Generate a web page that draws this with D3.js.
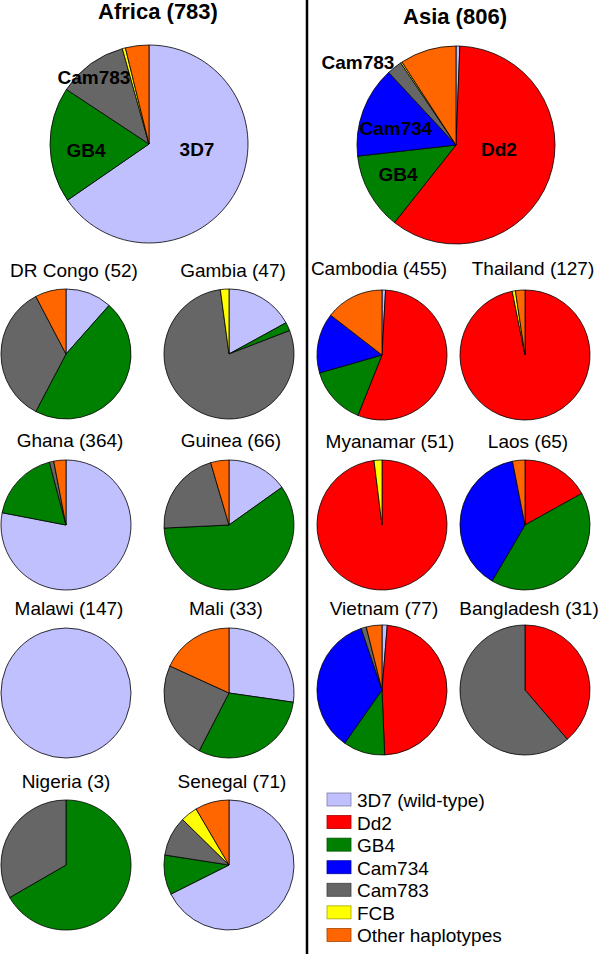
<!DOCTYPE html>
<html>
<head>
<meta charset="utf-8">
<script src="https://cdn.jsdelivr.net/npm/d3@7"></script>
<style>
  html, body { margin: 0; padding: 0; background: #fff; }
  svg { display: block; }
  text { font-family: "Liberation Sans", Arial, Helvetica, sans-serif; fill: #000; }
</style>
</head>
<body>
<svg id="chart" width="600" height="954"></svg>
<script>
// ---------- DATA ----------
const haplotypes = ["3D7 (wild-type)", "Dd2", "GB4", "Cam734", "Cam783", "FCB", "Other haplotypes"];
const hapColors  = ["#c0c0ff", "#ff0000", "#008000", "#0000ff", "#666666", "#ffff00", "#ff6600"];

const regionNames = ["Africa", "Asia"];
const regionN     = [783, 806];
const africaTotal = [512, 0, 148, 0, 89, 4, 30];
const asiaTotal   = [5, 484, 101, 120, 20, 2, 74];

const africaCountries = ["DR Congo", "Gambia", "Ghana", "Guinea", "Malawi", "Mali", "Nigeria", "Senegal"];
const africaN = [52, 47, 364, 66, 147, 33, 3, 71];
const drCongo = [6, 0, 24, 0, 18, 0, 4];
const gambia  = [8, 0, 1, 0, 37, 1, 0];
const ghana   = [284, 0, 65, 0, 4, 0, 11];
const guinea  = [10, 0, 39, 0, 14, 0, 3];
const malawi  = [147, 0, 0, 0, 0, 0, 0];
const mali    = [9, 0, 10, 0, 8, 0, 6];
const nigeria = [0, 0, 2, 0, 1, 0, 0];
const senegal = [48, 0, 7, 0, 7, 3, 6];

const asiaCountries = ["Cambodia", "Thailand", "Myanamar", "Laos", "Vietnam", "Bangladesh"];
const asiaN = [455, 127, 51, 65, 77, 31];
const cambodia   = [4, 251, 66, 68, 0, 0, 66];
const thailand   = [0, 123, 0, 0, 0, 1, 3];
const myanamar   = [0, 50, 0, 0, 0, 1, 0];
const laos       = [0, 11, 27, 25, 0, 0, 2];
const vietnam    = [1, 37, 8, 27, 1, 0, 3];
const bangladesh = [0, 12, 0, 0, 19, 0, 0];

// big-pie slice labels (haplotype index)
const africaLabels = [0, 2, 4];
const asiaLabels   = [1, 2, 3, 4];

// ---------- LAYOUT ----------
const svg = d3.select("#chart");
const color = d3.scaleOrdinal().domain(haplotypes).range(hapColors);
const pie = d3.pie().sort(null).value(d => d.v).startAngle(0).endAngle(2 * Math.PI);

const BIG_R = 99, SMALL_R = 65;

const bigLayout = [
  { cx: 149, cy: 144, tx: 158, ty: 19 },
  { cx: 456, cy: 145, tx: 455, ty: 24 }
];
// label positions (text center x, baseline y) for big pies
const bigLabelPos = [
  [[197, 156], [86, 157], [94, 84]],
  [[499, 156], [398, 181], [396, 135], [358, 69]]
];

const africaColX = [66, 229], africaRowY = [354, 525, 693, 865], africaTitleY = [277, 447, 615, 788];
const africaTitleDx = [8, 4, 4, 2, 3, -3, 0, 3];
const asiaColX = [382, 525], asiaRowY = [355, 525, 690], asiaTitleY = [275, 448, 615];
const asiaTitleDx = [-3, 8, 8, 3, 2, 4];

function drawPie(values, cx, cy, r) {
  const data = values.map((v, i) => ({ v, name: haplotypes[i] }));
  const arcs = pie(data).filter(a => a.data.v > 0);
  const arc = d3.arc().innerRadius(0).outerRadius(r);
  const g = svg.append("g").attr("transform", `translate(${cx},${cy})`);
  g.selectAll("path").data(arcs).join("path")
    .attr("d", arc)
    .attr("fill", d => color(d.data.name))
    .attr("stroke", "#000")
    .attr("stroke-width", 0.8)
    .attr("stroke-linejoin", "round");
  return g;
}

// Big region pies
const regionTotals = [africaTotal, asiaTotal];
const regionLabelIdx = [africaLabels, asiaLabels];
regionNames.forEach((name, k) => {
  const L = bigLayout[k];
  drawPie(regionTotals[k], L.cx, L.cy, BIG_R);
  svg.append("text")
    .attr("x", L.tx).attr("y", L.ty)
    .attr("text-anchor", "middle")
    .attr("font-size", 22).attr("font-weight", "bold")
    .text(`${name} (${regionN[k]})`);
  regionLabelIdx[k].forEach((hi, j) => {
    const lbl = haplotypes[hi].split(" ")[0];
    svg.append("text")
      .attr("x", bigLabelPos[k][j][0]).attr("y", bigLabelPos[k][j][1])
      .attr("text-anchor", "middle")
      .attr("font-size", 19).attr("font-weight", "bold")
      .text(lbl);
  });
});

// Country pies
const africaData = [drCongo, gambia, ghana, guinea, malawi, mali, nigeria, senegal];
africaCountries.forEach((name, i) => {
  const col = i % 2, row = Math.floor(i / 2);
  const cx = africaColX[col], cy = africaRowY[row];
  drawPie(africaData[i], cx, cy, SMALL_R);
  svg.append("text")
    .attr("x", cx + africaTitleDx[i]).attr("y", africaTitleY[row])
    .attr("text-anchor", "middle").attr("font-size", 19)
    .text(`${name} (${africaN[i]})`);
});

const asiaData = [cambodia, thailand, myanamar, laos, vietnam, bangladesh];
asiaCountries.forEach((name, i) => {
  const col = i % 2, row = Math.floor(i / 2);
  const cx = asiaColX[col], cy = asiaRowY[row];
  drawPie(asiaData[i], cx, cy, SMALL_R);
  svg.append("text")
    .attr("x", cx + asiaTitleDx[i]).attr("y", asiaTitleY[row])
    .attr("text-anchor", "middle").attr("font-size", 19)
    .text(`${name} (${asiaN[i]})`);
});

// Divider
svg.append("line")
  .attr("x1", 307).attr("x2", 307).attr("y1", 0).attr("y2", 954)
  .attr("stroke", "#000").attr("stroke-width", 2.5);

// Legend
const legY = d3.scaleBand().domain(haplotypes).range([791, 949]).paddingInner(0);
const leg = svg.append("g");
const items = leg.selectAll("g").data(haplotypes).join("g")
  .attr("transform", d => `translate(327,${legY(d)})`);
items.append("rect")
  .attr("x", 0).attr("y", 2).attr("width", 24).attr("height", 13)
  .attr("fill", d => color(d))
  .attr("stroke", d => d3.color(color(d)).darker(1.2))
  .attr("stroke-width", 0.8);
items.append("text")
  .attr("x", 30).attr("y", 16)
  .attr("font-size", 19)
  .text(d => d);
</script>
</body>
</html>
